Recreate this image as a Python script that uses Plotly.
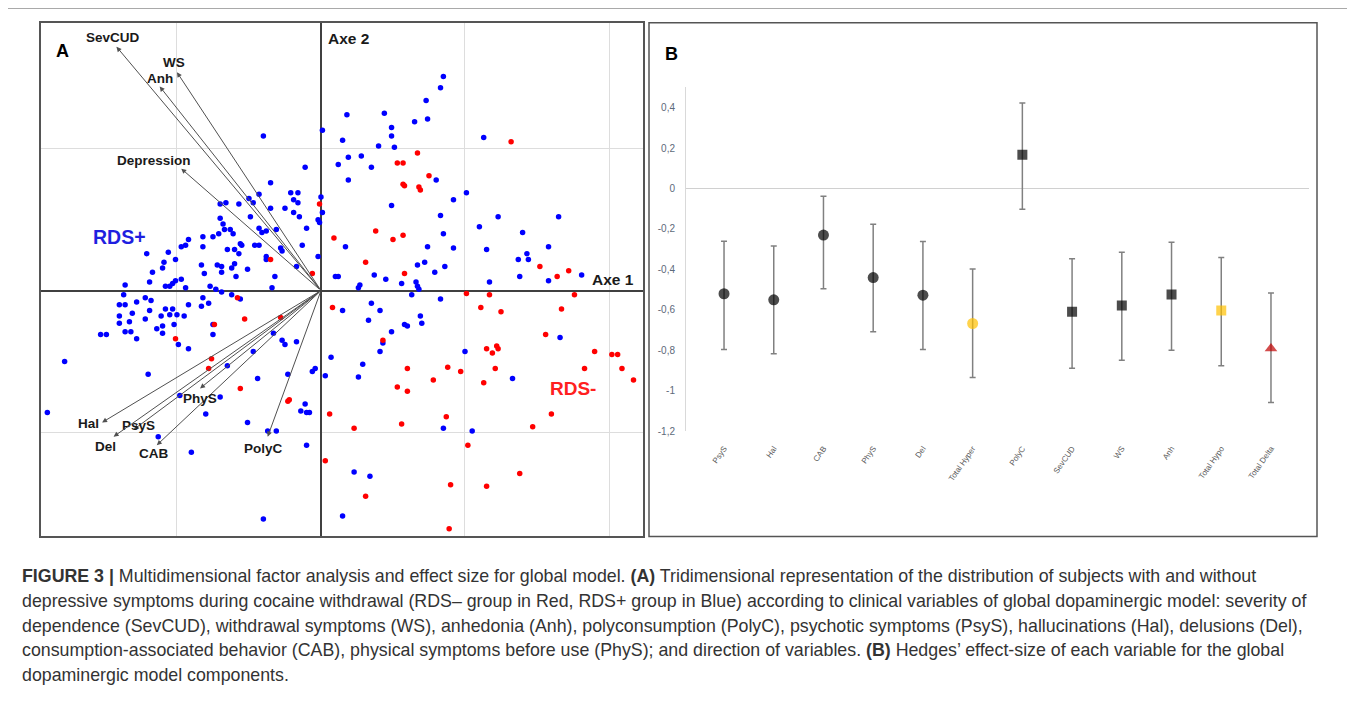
import plotly.graph_objects as go

# ---- panel A: factor map, coordinates ----
blue_x = [0.01, -0.40, -0.11,
          0.85, 0.83, 0.73, 0.44, 0.18, 0.65, 0.74, 0.49, 0.49, 0.51, 0.15, 0.40, 1.13, 0.19, 0.28, 0.12, 0.35,
          0.19, 0.80, 1.01, 0.92, 0.49, 0.83, 1.23, 1.65, 1.10, 1.40, 0.85, 0.17, 0.74, 0.92, 1.15, 1.58, 1.43,
          1.37, 1.44, 0.67, 0.72, 0.86, 0.37, 0.45, 0.79, 0.10, 0.12, 1.38, 1.58, 1.81, 1.17, 0.56, 0.66, 0.67,
          0.68, 0.27, 0.26,
          -0.35, -0.43, -0.21, -0.16, -0.50, -0.47, -0.70, -0.66, -0.57, -0.19, -0.16, 0.00, 0.01, -0.49, -0.35,
          -0.25, -0.19, -0.70, -0.68, -0.15, -0.02, -0.01, -0.67, -0.63, -0.61, -0.43, -0.41, -0.38, -0.31, -0.10,
          -0.82, -0.75, -0.71, -0.92, -0.94, -0.97, -0.82, -1.06, -1.21, -1.01, -0.65, -0.60, -0.56, -0.55, -0.57,
          -0.46, -0.43, -0.28, -0.27, -0.13, -1.09, -1.10, -1.17, -0.83, -0.81, -0.72, -0.69, -0.69, -0.62, -0.60,
          -0.59, -0.51, -0.38, -0.38, -0.32, -0.17, -0.02, -1.19, -1.36, -1.08, -1.05, -1.03, -1.01, -0.97, -0.94,
          -0.77, -0.73, -0.69, -0.34,
          -1.37, -1.40, -1.36, -1.40, -1.40, -1.33, -1.31, -1.28, -1.22, -1.18, -1.19, -1.22, -1.08, -1.11, -1.05,
          -1.03, -1.00, -1.02, -0.95, -0.92, -1.14, -1.10, -1.10, -1.36, -1.32, -1.28, -1.53, -1.49, -1.78, -0.99,
          -0.92, -0.82, -0.78, -0.83, -0.62, -0.56, -0.75, -0.75, -0.33, -0.27, -0.25, -0.17, -0.47, -0.65, -1.20,
          -0.44, -0.23, -0.04, -0.06, 0.03, 0.07, -0.70, -0.98, -0.11, -0.14, -0.10, -0.08, -1.90, -0.80, -0.51,
          -0.37, -0.31, -1.13, -0.10, -0.90, -0.40,
          0.63, 0.83, 0.15, 0.35, 0.41, 0.33, 0.69, 0.70, 0.58, 0.60, 0.49, 1.66, 0.43, 0.41, 0.29, 0.26, 1.00,
          1.33, 0.85, 1.05, 0.23, 0.34, 0.15]
blue_y = [1.13, 1.09, 0.87,
          1.51, 1.43, 1.34, 1.25, 1.24, 1.19, 1.21, 1.15, 1.09, 1.01, 1.06, 1.02, 1.08, 0.94, 0.95, 0.89, 0.87,
          0.78, 0.78, 0.69, 0.64, 0.60, 0.53, 0.52, 0.52, 0.45, 0.41, 0.40, 0.31, 0.31, 0.30, 0.29, 0.31, 0.26,
          0.22, 0.22, 0.18, 0.20, 0.17, 0.11, 0.08, 0.13, 0.10, 0.10, 0.10, 0.07, 0.11, 0.06, 0.05, 0.06, 0.03,
          0.01, 0.04, 0.02,
          0.76, 0.68, 0.69, 0.69, 0.65, 0.62, 0.61, 0.62, 0.61, 0.64, 0.62, 0.66, 0.55, 0.52, 0.58,
          0.58, 0.55, 0.51, 0.47, 0.52, 0.50, 0.48, 0.43, 0.43, 0.40, 0.44, 0.41, 0.42, 0.43, 0.44,
          0.38, 0.38, 0.40, 0.36, 0.32, 0.31, 0.31, 0.27, 0.26, 0.22, 0.29, 0.29, 0.33, 0.32, 0.26,
          0.32, 0.32, 0.30, 0.28, 0.32, 0.20, 0.16, 0.13, 0.18, 0.12, 0.18, 0.17, 0.13, 0.16, 0.19,
          0.10, 0.15, 0.24, 0.22, 0.10, 0.17, 0.24, 0.06, 0.04, 0.03, 0.03, 0.05, 0.07, 0.08, 0.02,
          0.03, 0.01, -0.01, 0.02,
          -0.03, -0.10, -0.10, -0.18, -0.23, -0.22, -0.16, -0.08, -0.05, -0.07, -0.14, -0.20, -0.13, -0.18, -0.17,
          -0.13, -0.17, -0.24, -0.18, -0.10, -0.27, -0.25, -0.30, -0.29, -0.29, -0.34, -0.31, -0.31, -0.50, -0.38,
          -0.41, -0.05, -0.09, -0.11, -0.03, -0.06, -0.24, -0.31, -0.30, -0.35, -0.38, -0.36, -0.43, -0.53, -0.59,
          -0.62, -0.59, -0.55, -0.57, -0.60, -0.47, -0.75, -0.74, -0.80, -0.85, -0.86, -0.86, -0.86, -0.87, -0.93,
          -0.99, -0.99, -1.03, -1.09, -1.14, -1.61,
          -0.03, -0.06, -0.14, -0.09, -0.14, -0.21, -0.18, -0.23, -0.24, -0.25, -0.29, -0.33, -0.37, -0.43, -0.52,
          -0.61, -0.43, -0.62, -0.97, -0.99, -1.28, -1.31, -1.59]

red_x = [-0.01, -0.35, -0.06, 0.09, 1.32, 0.67, 0.53, 0.57, 0.75, 0.57, 0.58, 0.68, 0.69, 0.38, 0.50, 0.57,
         0.31, 1.52, 0.58, 1.64, 1.72, 1.01, 1.17, 1.76,
         -0.58, -0.74, -0.53, -0.28, -1.01, -0.76, -0.78, -0.56, -0.23, -0.22, 0.06, 0.03,
         0.08, 1.11, 1.25, 1.67, 1.56, 0.43, 0.60, 0.53, 0.60, 0.78, 0.88, 0.97, 1.15, 1.22, 1.23, 1.19, 1.21,
         1.13, 1.90, 2.02, 2.06, 1.83, 2.09, 2.17, 1.60, 1.47, 0.87, 0.56, 0.23, 1.02, 1.38, 0.90, 1.15, 0.31,
         0.89]
red_y = [0.61, 0.22, 0.12, 0.37, 1.05, 0.97, 0.90, 0.90, 0.81, 0.75, 0.74, 0.73, 0.71, 0.42, 0.36, 0.39,
         0.20, 0.17, 0.12, 0.10, 0.14, -0.02, -0.03, -0.03,
         -0.05, -0.24, -0.20, -0.19, -0.34, -0.48, -0.55, -0.69, -0.78, -0.77, -0.87, -1.20,
         -0.12, -0.12, -0.15, -0.13, -0.31, -0.35, -0.55, -0.68, -0.71, -0.63, -0.54, -0.57, -0.41, -0.39, -0.41,
         -0.44, -0.55, -0.65, -0.43, -0.45, -0.45, -0.55, -0.55, -0.63, -0.87, -0.96, -0.89, -0.94, -0.97, -1.09,
         -1.29, -1.37, -1.38, -1.45, -1.68]

# variable directions (arrow tips)
var_names = ["SevCUD", "WS", "Anh", "Depression", "Hal", "PsyS", "Del", "CAB", "PhyS", "PolyC"]
var_x = [-1.42, -1.00, -1.12, -0.97, -1.52, -1.30, -1.44, -1.14, -0.84, -0.37]
var_y = [1.72, 1.54, 1.44, 0.86, -0.93, -0.98, -1.03, -1.09, -0.69, -1.03]
# label offsets in px (style only)
lab_dx = [-3, -3, 0, -27, -14, 5, -8, -3, 0, -4]
lab_dy = [9, 10, 8, 8, -1, 4, -10, -8, -10, -12]

# ---- panel B: Hedges' effect size ----
cats = ["PsyS", "Hal", "CAB", "PhyS", "Del", "Total Hyper", "PolyC", "SevCUD", "WS", "Anh",
        "Total Hypo", "Total Delta"]
effect = [-0.52, -0.55, -0.23, -0.44, -0.527, -0.667, 0.167, -0.609, -0.578, -0.524, -0.603, -0.79]
ci_low = [-0.795, -0.816, -0.495, -0.708, -0.795, -0.934, -0.102, -0.888, -0.849, -0.799, -0.876, -1.057]
ci_high = [-0.26, -0.284, -0.038, -0.177, -0.262, -0.398, 0.423, -0.347, -0.315, -0.265, -0.341, -0.516]
symbols = ["circle"] * 6 + ["square"] * 5 + ["triangle-up"]
colors = ["black"] * 5 + ["#ffc000"] + ["black"] * 4 + ["#ffc000", "#c00000"]
sizes = [11] * 6 + [10] * 5 + [11]
yticks = [0.4, 0.2, 0, -0.2, -0.4, -0.6, -0.8, -1, -1.2]

caption_lines = [
    "<b>FIGURE 3 |</b> Multidimensional factor analysis and effect size for global model. <b>(A)</b> Tridimensional "
    "representation of the distribution of subjects with and without",
    "depressive symptoms during cocaine withdrawal (RDS– group in Red, RDS+ group in Blue) according to clinical "
    "variables of global dopaminergic model: severity of",
    "dependence (SevCUD), withdrawal symptoms (WS), anhedonia (Anh), polyconsumption (PolyC), psychotic symptoms "
    "(PsyS), hallucinations (Hal), delusions (Del),",
    "consumption-associated behavior (CAB), physical symptoms before use (PhyS); and direction of variables. "
    "<b>(B)</b> Hedges’ effect-size of each variable for the global",
    "dopaminergic model components.",
]

# the page has an 8px body margin, so the figure is drawn 8px smaller and placed at (8, 8)
OFF = 8
W, H = 1355 - OFF, 714 - OFF


def px(x):
    return (x - OFF) / W


def py(y):
    return 1 - (y - OFF) / H


fig = go.Figure()

fig.add_trace(go.Scatter(x=blue_x, y=blue_y, mode="markers", xaxis="x", yaxis="y",
                         marker=dict(color="#0000ff", size=5.5), showlegend=False, hoverinfo="skip"))
fig.add_trace(go.Scatter(x=red_x, y=red_y, mode="markers", xaxis="x", yaxis="y",
                         marker=dict(color="#ff0000", size=5.5), showlegend=False, hoverinfo="skip"))

err_up = [h - e for h, e in zip(ci_high, effect)]
err_dn = [e - l for l, e in zip(ci_low, effect)]
fig.add_trace(go.Scatter(x=cats, y=effect, mode="markers", xaxis="x2", yaxis="y2",
                         marker=dict(symbol=symbols, color=colors, size=sizes, line=dict(width=0)),
                         error_y=dict(type="data", symmetric=False, array=err_up, arrayminus=err_dn,
                                      color="#808080", thickness=1.5, width=3),
                         showlegend=False))

anns = []
for name, vx, vy, dx, dy in zip(var_names, var_x, var_y, lab_dx, lab_dy):
    anns.append(dict(x=vx, y=vy, ax=0, ay=0, xref="x", yref="y", axref="x", ayref="y", text="",
                     showarrow=True, arrowhead=2, arrowsize=1, arrowwidth=1, arrowcolor="#505050", standoff=0))
    anns.append(dict(x=vx, y=vy, xref="x", yref="y", text="<b>" + name + "</b>", showarrow=False,
                     xshift=dx, yshift=dy, xanchor="center",
                     font=dict(family="Liberation Sans", size=13.5, color="#1a1a1a")))

anns += [
    dict(x=-1.40, y=0.38, xref="x", yref="y", text="<b>RDS+</b>", showarrow=False,
         font=dict(family="Liberation Sans", size=19.5, color="#1f1fe0")),
    dict(x=1.75, y=-0.69, xref="x", yref="y", text="<b>RDS-</b>", showarrow=False,
         font=dict(family="Liberation Sans", size=19, color="#ff2020")),
    dict(x=0, y=1.78, xref="x", yref="y", text="<b>Axe 2</b>", showarrow=False, xanchor="left", xshift=5,
         font=dict(family="Liberation Sans", size=15.5, color="#1a1a1a")),
    dict(x=2.03, y=0.08, xref="x", yref="y", text="<b>Axe 1</b>", showarrow=False,
         font=dict(family="Liberation Sans", size=15.5, color="#1a1a1a")),
    dict(x=px(54), y=py(39), xref="paper", yref="paper", text="<b>A</b>", showarrow=False,
         font=dict(family="Liberation Sans", size=18, color="black")),
    dict(x=px(671), y=py(42), xref="paper", yref="paper", text="<b>B</b>", showarrow=False,
         font=dict(family="Liberation Sans", size=18, color="black")),
]

for i, line in enumerate(caption_lines):
    anns.append(dict(x=px(20), y=py(581 + 25 * i), xref="paper", yref="paper", text=line,
                     showarrow=False, xanchor="left", yanchor="middle",
                     font=dict(family="Liberation Sans", size=17.8, color="#333333")))

shapes = [
    # outer frame (left and top)
    dict(type="line", xref="paper", yref="paper", x0=px(2), x1=px(2), y0=0, y1=py(8),
         line=dict(color="#555555", width=1)),
    dict(type="line", xref="paper", yref="paper", x0=px(2), x1=1, y0=py(8), y1=py(8),
         line=dict(color="#555555", width=1)),
    # panel B frame
    dict(type="rect", xref="paper", yref="paper", x0=px(649), x1=px(1317), y0=py(541), y1=py(23),
         line=dict(color="#555555", width=1.5)),
]

fig.update_layout(
    width=W, height=H, margin=dict(l=0, r=0, t=0, b=0),
    paper_bgcolor="white", plot_bgcolor="white",
    annotations=anns, shapes=shapes,
    xaxis=dict(domain=[px(41), px(643)], range=[-1.944, 2.236], dtick=1, showticklabels=False, ticks="",
               showgrid=True, gridcolor="#dddddd", zeroline=True, zerolinecolor="#404040", zerolinewidth=1.5,
               showline=True, mirror=True, linecolor="#555555", linewidth=1.5),
    yaxis=dict(domain=[py(541), py(23)], range=[-1.734, 1.888], dtick=1, showticklabels=False, ticks="",
               showgrid=True, gridcolor="#dddddd", zeroline=True, zerolinecolor="#404040", zerolinewidth=1.5,
               showline=True, mirror=True, linecolor="#555555", linewidth=1.5),
    xaxis2=dict(domain=[px(686), px(1309)], anchor="y2", type="category", showgrid=False, zeroline=False,
                showline=False, ticks="", tickangle=-55, ticklabelstandoff=10,
                tickfont=dict(family="Liberation Sans", size=8, color="#595959")),
    yaxis2=dict(domain=[py(435), py(88)], anchor="x2", range=[-1.2, 0.5], showgrid=False,
                tickvals=yticks, ticktext=[("%g" % v).replace(".", ",") for v in yticks], ticks="",
                ticklabelstandoff=8, tickfont=dict(family="Liberation Sans", size=10, color="#5d6a7a"),
                showline=True, linecolor="#d9d9d9", linewidth=1,
                zeroline=True, zerolinecolor="#d0d0d0", zerolinewidth=1),
)

fig.write_html("out.html")
